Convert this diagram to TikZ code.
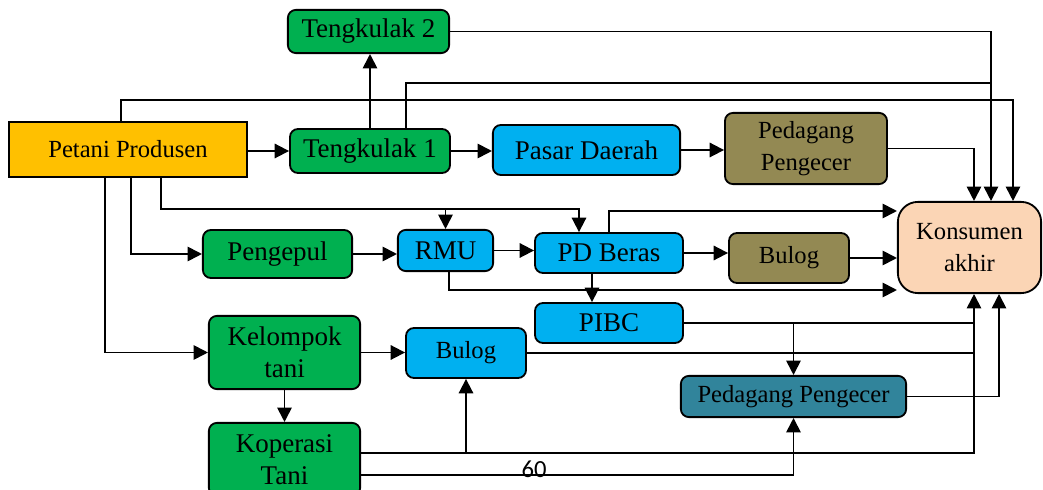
\documentclass[tikz,border=0pt]{standalone}
\usepackage{fontspec}
\setmainfont{Liberation Serif}
\newfontfamily\calibrifont{Carlito}
\usetikzlibrary{arrows.meta}

\definecolor{hijau}{RGB}{0,176,80}
\definecolor{kuning}{RGB}{255,192,0}
\definecolor{biru}{RGB}{0,176,240}
\definecolor{zaitun}{RGB}{147,137,83}
\definecolor{tosca}{RGB}{49,132,155}
\definecolor{persik}{RGB}{251,213,181}

\newcommand{\besar}{\rmfamily\fontsize{19.2}{22.5}\selectfont}
\newcommand{\sedang}{\rmfamily\fontsize{17.5}{22.5}\selectfont}

\begin{document}
\begin{tikzpicture}[x = 0.025cm, y = -0.025cm,
	kotak/.style = {draw, line width = 1.3pt, rounded corners = 0.2cm, inner sep = 0pt, align = center, font = \besar},
	hijaubox/.style = {kotak, fill = hijau},
	birubox/.style = {kotak, fill = biru},
	zaitunbox/.style = {kotak, fill = zaitun, font = \sedang},
	garis/.style = {line width = 1.3pt},
	panah/.style = {garis, -{Triangle[length = 0.36cm, width = 0.36cm]}}]

	\useasboundingbox (0, 0) rectangle (1043, 490);

	% Pelaku pemasaran
	
	\node [hijaubox, minimum width = 4.03cm, minimum height = 1.08cm] (tk2) at (368.5, 31.5) {Tengkulak 2};
	\node [draw, line width = 1.3pt, fill = kuning, font = \sedang, minimum width = 5.95cm, minimum height = 1.38cm] (petani) at (128, 149.5) {Petani Produsen};
	\node [hijaubox, minimum width = 4cm, minimum height = 1.1cm] (tk1) at (370, 151) {Tengkulak 1};
	\node [birubox, minimum width = 4.68cm, minimum height = 1.25cm] (pasar) at (586.5, 150) {Pasar Daerah};
	\node [zaitunbox, minimum width = 4.05cm, minimum height = 1.78cm] (pdg1) at (806, 148.5) {Pedagang\\Pengecer};
	\node [kotak, fill = persik, rounded corners = 0.5cm, font = \sedang, minimum width = 3.58cm, minimum height = 2.28cm] (kons) at (969.5, 247.5) {Konsumen\\akhir};
	
	\node [hijaubox, minimum width = 3.73cm, minimum height = 1.2cm] (pengepul) at (277.5, 254) {Pengepul};
	\node [birubox, minimum width = 2.38cm, minimum height = 1.03cm] (rmu) at (445.5, 250.5) {RMU};
	\node [birubox, minimum width = 3.7cm, minimum height = 1cm] (pdberas) at (609, 253) {PD Beras};
	\node [zaitunbox, minimum width = 3cm, minimum height = 1.25cm] (bulog1) at (789, 258) {Bulog};
	\node [birubox, minimum width = 3.7cm, minimum height = 1cm] (pibc) at (609, 323) {PIBC};
	
	\node [hijaubox, minimum width = 3.78cm, minimum height = 1.83cm] (kelompok) at (284.5, 352.5) {Kelompok\\tani};
	\node [birubox, font = \sedang, minimum width = 3cm, minimum height = 1.25cm] (bulog2) at (466, 353) {Bulog};
	\node [hijaubox, minimum width = 3.78cm, minimum height = 1.83cm] (koperasi) at (284.5, 459.5) {Koperasi\\Tani};
	\node [kotak, fill = tosca, font = \sedang, minimum width = 5.63cm, minimum height = 1.03cm] (pdg2) at (793.5, 396.5) {Pedagang Pengecer};
	
	% Jalur dan kolom
	
	\coordinate (jalurA) at (0, 100);
	\coordinate (jalurB) at (0, 83);
	\coordinate (jalurC) at (0, 209);
	\coordinate (jalurD) at (0, 290);
	\coordinate (jalurE) at (0, 211);
	\coordinate (kolomA) at (974, 0);
	\coordinate (kolomB) at (991, 0);
	\coordinate (kolomC) at (1013, 0);
	\coordinate (kolomD) at (999, 0);
	
	% Saluran atas
	
	\draw [panah] (petani.east |- tk1) -- (tk1.west);
	\draw [panah] (tk1.north) -- (tk1.north |- tk2.south);
	\draw [panah] (tk1.east) -- (tk1.east -| pasar.west);
	\draw [panah] (pasar.east) -- (pasar.east -| pdg1.west);
	\draw [panah] (pdg1.east) -| (kolomA |- kons.north);
	\draw [panah] (tk2.east) -| (kolomB |- kons.north);
	\draw [panah] ([xshift = -0.18cm]petani.north) |- (jalurA -| kolomC) -- (kolomC |- kons.north);
	\draw [garis] ([xshift = 0.9cm]tk1.north) |- (jalurB -| kolomB);
	
	% Saluran tengah
	
	\draw [panah] ([xshift = 0.825cm]petani.south) |- ([xshift = -0.75cm]pdberas.north |- jalurC) -- ([xshift = -0.75cm]pdberas.north);
	\draw [panah] (rmu.north |- jalurC) -- (rmu.north);
	\draw [panah] ([xshift = 0.075cm]petani.south) |- (pengepul.west);
	\draw [panah] (pengepul.east) -- (pengepul.east -| rmu.west);
	\draw [panah] (rmu.east) -- (rmu.east -| pdberas.west);
	\draw [panah] ([xshift = 0.09cm]rmu.south) |- (kons.west |- jalurD);
	\draw [panah] (pdberas.north) |- (kons.west |- jalurE);
	\draw [panah] (pdberas.east) -- (pdberas.east -| bulog1.west);
	\draw [panah] (bulog1.east) -- (bulog1.east -| kons.west);
	\draw [panah] ([xshift = -0.425cm]pdberas.south) -- ([xshift = -0.425cm]pibc.north);
	
	% Saluran bawah
	
	\draw [panah] ([xshift = -0.575cm]petani.south) |- (kelompok.west);
	\draw [panah] (kelompok.east) -- (kelompok.east -| bulog2.west);
	\draw [panah] (kelompok.south) -- (koperasi.north);
	\draw [garis] (pibc.east) -- (pibc.east -| kolomA);
	\draw [panah] (pibc.east -| pdg2.north) -- (pdg2.north);
	\draw [garis] (bulog2.east) -- (bulog2.east -| kolomA);
	\draw [panah] ([yshift = 0.16cm]koperasi.east) -| (kolomA |- kons.south);
	\draw [panah] ([yshift = 0.16cm]koperasi.east -| bulog2.south) -- (bulog2.south);
	\draw [panah] ([yshift = -0.39cm]koperasi.east) -| (pdg2.south);
	\draw [panah] (pdg2.east) -| (kolomD |- kons.south);
	
	% Nomor halaman
	
	\node [font = \calibrifont\fontsize{17.5}{20}\selectfont, inner sep = 0pt] (halaman) at (534, 469) {60};

\end{tikzpicture}
\end{document}
